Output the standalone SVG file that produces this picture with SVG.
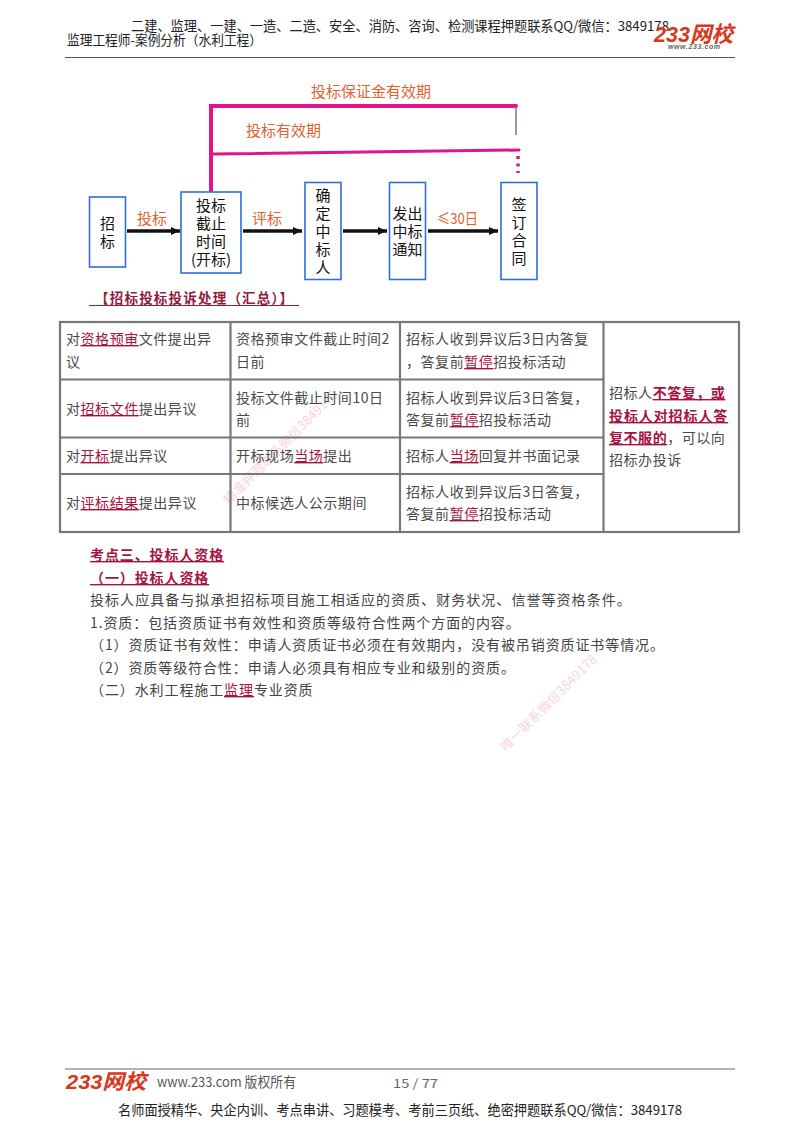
<svg xmlns="http://www.w3.org/2000/svg" width="800" height="1132" viewBox="0 0 800 1132">
<style>
text{font-family:"Noto Sans CJK SC","Liberation Sans",sans-serif}
.hd{font-size:13.5px;fill:#222}
.bx{fill:#fff;stroke:#2f6fd6;stroke-width:1.6}
.nt{font-size:15px;fill:#111;text-anchor:middle}
.or{font-size:15px;fill:#e0632f}
.tl{font-size:14px;fill:#4a4a4a;letter-spacing:.55px}
.bd{font-size:14px;fill:#444;letter-spacing:.9px}
.r{fill:#a8123f;text-decoration:underline}
.b{font-weight:700}
.g{fill:none;stroke:#777;stroke-width:2.2}
.ar{fill:none;stroke:#111;stroke-width:3.5;marker-end:url(#ah)}
.pk{fill:none;stroke:#e0158c;stroke-linecap:round}
.wm{font-size:13px;fill:#f5d0d3;opacity:.85}
.logo{font-family:"Liberation Sans",sans-serif;font-style:italic;font-weight:700;fill:#d8371c}
</style>
<defs><marker id="ah" markerUnits="userSpaceOnUse" markerWidth="10" markerHeight="10" refX="9" refY="5" orient="auto"><path d="M0 1L9 5L0 9z" fill="#111"/></marker></defs>
<rect width="800" height="1132" fill="#fff"/>
<g id="header">
<text class="hd" x="131" y="31" textLength="538" lengthAdjust="spacingAndGlyphs">二建、监理、一建、一造、二造、安全、消防、咨询、检测课程押题联系QQ/微信：3849178</text>
<text class="hd" x="67" y="45" textLength="195" lengthAdjust="spacingAndGlyphs">监理工程师-案例分析（水利工程）</text>
<text class="logo" x="654" y="42" font-size="22" textLength="79" lengthAdjust="spacingAndGlyphs">233<tspan font-family="Noto Sans CJK SC">网校</tspan></text>
<text x="668" y="49" font-size="7" font-weight="700" font-style="italic" fill="#666" textLength="52" style="font-family:'Liberation Sans',sans-serif">www.233.com</text>
<path d="M65 57.500H735" stroke="#555" stroke-width="1.200"/>
</g>
<g id="connectors">
<path class="pk" stroke-width="4" d="M211 191V106H516"/>
<path class="pk" stroke-width="3" d="M212 154L519 150"/>
<path d="M516 107V135" stroke="#8a7078" stroke-width="1.500" fill="none"/>
<path d="M518 156V173" stroke="#c0288f" stroke-width="3.500" stroke-dasharray="3 4.500" fill="none"/>
<path class="ar" d="M127 231H180"/>
<path class="ar" d="M243 231H302"/>
<path class="ar" d="M343 231H387"/>
<path class="ar" d="M428 231H498"/>
</g>
<g id="edge-labels">
<text class="or" x="311" y="97">投标保证金有效期</text>
<text class="or" x="246" y="136">投标有效期</text>
<text class="or" x="137" y="224">投标</text>
<text class="or" x="252" y="224">评标</text>
<text class="or" x="437" y="224" textLength="41" lengthAdjust="spacingAndGlyphs">≤30日</text>
</g>
<g id="n1"><rect class="bx" x="89.500" y="197" width="36" height="70"/><text class="nt" x="107.500" y="229">招</text><text class="nt" x="107.500" y="247">标</text></g>
<g id="n2"><rect class="bx" x="181" y="192" width="60" height="81"/><text class="nt" x="211" y="211">投标</text><text class="nt" x="211" y="229">截止</text><text class="nt" x="211" y="247">时间</text><text class="nt" x="211" y="265">(开标)</text></g>
<g id="n3"><rect class="bx" x="305" y="182.500" width="36" height="97"/><text class="nt" x="323" y="201">确</text><text class="nt" x="323" y="219">定</text><text class="nt" x="323" y="237">中</text><text class="nt" x="323" y="255">标</text><text class="nt" x="323" y="273">人</text></g>
<g id="n4"><rect class="bx" x="389.500" y="182.500" width="36" height="97"/><text class="nt" x="407.500" y="219">发出</text><text class="nt" x="407.500" y="237">中标</text><text class="nt" x="407.500" y="255">通知</text></g>
<g id="n5"><rect class="bx" x="501" y="182.500" width="36" height="97"/><text class="nt" x="519" y="210">签</text><text class="nt" x="519" y="228">订</text><text class="nt" x="519" y="246">合</text><text class="nt" x="519" y="264">同</text></g>
<g id="table-title">
<text x="95" y="303" font-size="13.500" font-weight="700" fill="#8f1d3c" textLength="198">【招标投标投诉处理（汇总）】</text>
<path d="M89 305.500H299" stroke="#8f1d3c" stroke-width="1.200"/>
</g>
<g id="watermarks">
<text class="wm" transform="translate(229 505) rotate(-45)" textLength="155">精准押题联系微信3849178</text>
<text class="wm" transform="translate(506 752) rotate(-45)" textLength="130">唯一联系微信3849178</text>
</g>
<g id="table">
<rect class="g" x="60" y="322" width="679" height="210"/>
<path class="g" d="M60 379.500H603.500M60 437.500H603.500M60 474H603.500M230.500 322V532M400 322V532M603.500 322V532"/>
<text class="tl" x="66" y="344">对<tspan class="r">资格预审</tspan>文件提出异</text>
<text class="tl" x="66" y="367">议</text>
<text class="tl" x="236" y="344">资格预审文件截止时间2</text>
<text class="tl" x="236" y="367">日前</text>
<text class="tl" x="406" y="344">招标人收到异议后3日内答复</text>
<text class="tl" x="406" y="367">，答复前<tspan class="r">暂停</tspan>招投标活动</text>
<text class="tl" x="66" y="414">对<tspan class="r">招标文件</tspan>提出异议</text>
<text class="tl" x="236" y="403">投标文件截止时间10日</text>
<text class="tl" x="236" y="425">前</text>
<text class="tl" x="406" y="403">招标人收到异议后3日答复，</text>
<text class="tl" x="406" y="425">答复前<tspan class="r">暂停</tspan>招投标活动</text>
<text class="tl" x="66" y="461">对<tspan class="r">开标</tspan>提出异议</text>
<text class="tl" x="236" y="461">开标现场<tspan class="r">当场</tspan>提出</text>
<text class="tl" x="406" y="461">招标人<tspan class="r">当场</tspan>回复并书面记录</text>
<text class="tl" x="66" y="508">对<tspan class="r">评标结果</tspan>提出异议</text>
<text class="tl" x="236" y="508">中标候选人公示期间</text>
<text class="tl" x="406" y="497">招标人收到异议后3日答复，</text>
<text class="tl" x="406" y="519">答复前<tspan class="r">暂停</tspan>招投标活动</text>
<text class="tl" x="609" y="398">招标人<tspan class="r b">不答复，或</tspan></text>
<text class="tl" x="609" y="421" style="letter-spacing:.9px"><tspan class="r b">投标人对招标人答</tspan></text>
<text class="tl" x="609" y="443"><tspan class="r b">复不服的</tspan>，可以向</text>
<text class="tl" x="609" y="465">招标办投诉</text>
</g>
<g id="body">
<text class="bd" x="90" y="560"><tspan class="r b">考点三、投标人资格</tspan></text>
<text class="bd" x="90" y="583"><tspan class="r b">（一）投标人资格</tspan></text>
<text class="bd" x="90" y="605" style="letter-spacing:1.050px">投标人应具备与拟承担招标项目施工相适应的资质、财务状况、信誉等资格条件。</text>
<text class="bd" x="90" y="628">1.资质：包括资质证书有效性和资质等级符合性两个方面的内容。</text>
<text class="bd" x="90" y="650">（1）资质证书有效性：申请人资质证书必须在有效期内，没有被吊销资质证书等情况。</text>
<text class="bd" x="90" y="673">（2）资质等级符合性：申请人必须具有相应专业和级别的资质。</text>
<text class="bd" x="90" y="695">（二）水利工程施工<tspan class="r">监理</tspan>专业资质</text>
</g>
<g id="footer">
<path d="M65 1069H735" stroke="#666" stroke-width="1.200"/>
<text class="logo" x="66" y="1089" font-size="21" textLength="80" lengthAdjust="spacingAndGlyphs">233<tspan font-family="Noto Sans CJK SC">网校</tspan></text>
<text class="hd" x="157" y="1087" textLength="139" lengthAdjust="spacingAndGlyphs" style="fill:#555">www.233.com 版权所有</text>
<text class="hd" x="393" y="1088" textLength="45" lengthAdjust="spacingAndGlyphs" style="font-size:12px;fill:#666">15 / 77</text>
<text class="hd" x="118" y="1115" textLength="564" lengthAdjust="spacingAndGlyphs">名师面授精华、央企内训、考点串讲、习题模考、考前三页纸、绝密押题联系QQ/微信：3849178</text>
</g>
</svg>
